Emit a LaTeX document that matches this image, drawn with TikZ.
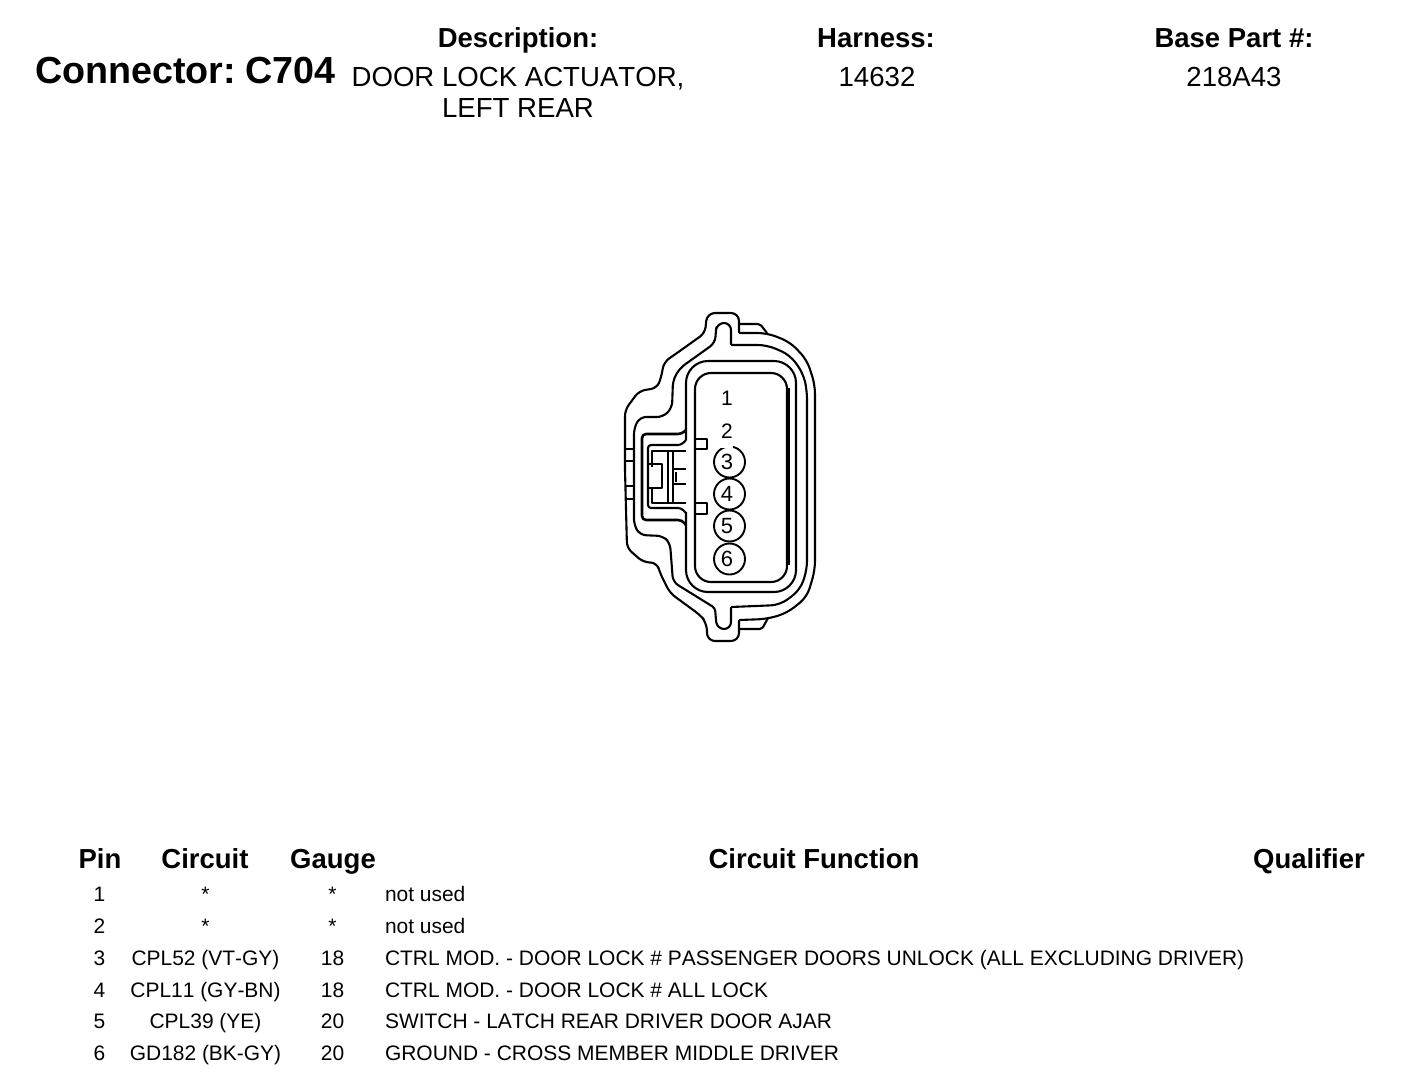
\documentclass[tikz,border=0pt]{standalone}
\usepackage{fontspec}
\setmainfont[Kerning=Off]{Liberation Sans}
\begin{document}
\begin{tikzpicture}[x=1pt,y=-1pt,line width=2.1pt,line join=round]
    \tikzstyle{title}=[inner sep=0pt,anchor=base,font=\bfseries\fontsize{27.5}{30}\selectfont]
    \tikzstyle{value}=[inner sep=0pt,anchor=base,font=\fontsize{27.6}{30}\selectfont]
    \tikzstyle{cell}=[inner sep=0pt,anchor=base,font=\fontsize{20.95}{24}\selectfont]
    \tikzstyle{pin}=[circle,draw=black,line width=1.9pt,fill=white,minimum size=31pt,inner sep=0pt,font=\fontsize{22}{24}\selectfont]
    \useasboundingbox (0,0) rectangle (1408,1082);

    % heading
    \node[inner sep=0pt,anchor=base west,font=\bfseries\fontsize{37.7}{42}\selectfont] (conn) at (34,83.5) {Connector:\kern 9pt C704};
    \node[title] (desc) at (518,47) {Description:};
    \node[title] (harn) at (876,47) {Harness:};
    \node[title] (base) at (1234,47) {Base Part \#:};
    \node[value] (desc-1) at (518,86) {DOOR LOCK ACTUATOR,};
    \node[value] (desc-2) at (518,117) {LEFT REAR};
    \node[value] (harn-1) at (877,86) {14632};
    \node[value] (base-1) at (1234,86) {218A43};

    % shell
    \draw[rounded corners=6pt] (625,470) -- (625,410) -- (639,391) -- (657,388) -- (661,378) -- (664,362) -- (677,353) -- (705,333) [rounded corners=8pt] -- (707,313) -- (739,313) [rounded corners=1pt] -- (739,333) [rounded corners=9pt] -- (767,333) -- (790,342) -- (807,360) -- (815,385)
        -- (815,570) -- (807,597) -- (787,613) -- (767,619) [rounded corners=1pt] -- (739,620) [rounded corners=8pt] -- (739,641) -- (707,641) -- (707,623) [rounded corners=6pt] -- (700,615) -- (670,593) -- (660,573) -- (657,563) -- (643,562) -- (627,548) -- (625,470);
    \draw[rounded corners=2pt] (739,324) -- (760,324) -- (767,333);
    \draw[rounded corners=2pt] (739,629) -- (762,629) -- (768,618);
    \draw[rounded corners=6pt] (634,470) -- (634,428) -- (640,417) -- (663,417) -- (672,408) -- (673,380) -- (680,368) -- (715,343) [rounded corners=3pt] -- (716,330) [rounded corners=7pt] -- (717,323) -- (731,323) [rounded corners=1pt] -- (731,345) [rounded corners=9pt] -- (767,345) -- (790,355) -- (803,373) -- (807,390)
        -- (807,570) -- (800,590) -- (780,605) [rounded corners=1pt] -- (731,607) [rounded corners=7pt] -- (731,629) -- (717,629) [rounded corners=3pt] -- (716,620) -- (715,608) [rounded corners=6pt] -- (673,582) -- (670,543) -- (663,536) -- (640,535) -- (634,525) -- (634,470);

    % seal and cavity
    \draw[rounded corners=22pt] (686,440) -- (686,361) -- (796,361) -- (796,592) -- (686,592) -- (686,512);
    \draw[rounded corners=16pt] (695,470) -- (695,373) -- (787,373) -- (787,582) -- (695,582) -- (695,470);
    \draw[line width=3.4pt] (788,388) -- (788,565);

    % latch tabs
    \draw (695,439) -- (707,439) -- (707,449) -- (695,449);
    \draw (695,503) -- (707,503) -- (707,514) -- (695,514);
    \foreach \y in {449,461,486,499}
        \draw (625,\y) -- (634,\y);

    % latch pocket
    \draw[line width=2.6pt,rounded corners=4pt] (686,430) -- (682,434) -- (642,434) -- (642,520) -- (682,520) -- (686,525);
    \draw[rounded corners=3pt] (686,440) -- (681,445) -- (648,445) -- (648,508) -- (681,508) -- (686,513);
    \draw (652,467) -- (652,451) -- (686,451);
    \draw (652,487) -- (652,503) -- (686,503);
    \draw[line width=2.6pt] (649,464) -- (662,464) -- (662,488) -- (649,488);
    \foreach \x in {668,673}
        \draw[line width=1.4pt] (\x,451) -- (\x,503);
    \draw[line width=1.6pt] (673,469) -- (686,469);
    \draw[line width=1.6pt] (673,484) -- (686,484);
    \draw[line width=1.4pt] (676,472) -- (676,482);

    % pins
    \foreach \num/\y in {3/462, 4/494, 5/526, 6/559}
        \node[pin] (P-\num) at (729.5,\y) {\kern-5pt\num};
    \node[cell] (P-1) at (727,405.5) {1};
    \node[cell,fill=white,text depth=9pt] (P-2) at (727,438.5) {2};

    % table
    \node[title] (h-pin) at (100,868) {Pin};
    \node[title] (h-circ) at (205,868) {Circuit};
    \node[title] (h-gauge) at (333,868) {Gauge};
    \node[title] (h-func) at (814,868) {Circuit Function};
    \node[title] (h-qual) at (1309,868) {Qualifier};
    \foreach \num/\y/\circ/\gauge/\func in {
        1/901.5/*/*/not used,
        2/933.5/*/*/not used,
        3/965.5/CPL52 (VT-GY)/18/CTRL MOD. - DOOR LOCK \# PASSENGER DOORS UNLOCK (ALL EXCLUDING DRIVER),
        4/997.5/CPL11 (GY-BN)/18/CTRL MOD. - DOOR LOCK \# ALL LOCK,
        5/1028.5/CPL39 (YE)/20/SWITCH - LATCH REAR DRIVER DOOR AJAR,
        6/1060.5/GD182 (BK-GY)/20/GROUND - CROSS MEMBER MIDDLE DRIVER} {
            \node[cell] (pin-\num) at (99.5,\y) {\num};
            \node[cell] (circ-\num) at (205.5,\y) {\circ};
            \node[cell] (gauge-\num) at (332.5,\y) {\gauge};
            \node[cell,anchor=base west] (func-\num) at (384,\y) {\func};
        }
\end{tikzpicture}
\end{document}
